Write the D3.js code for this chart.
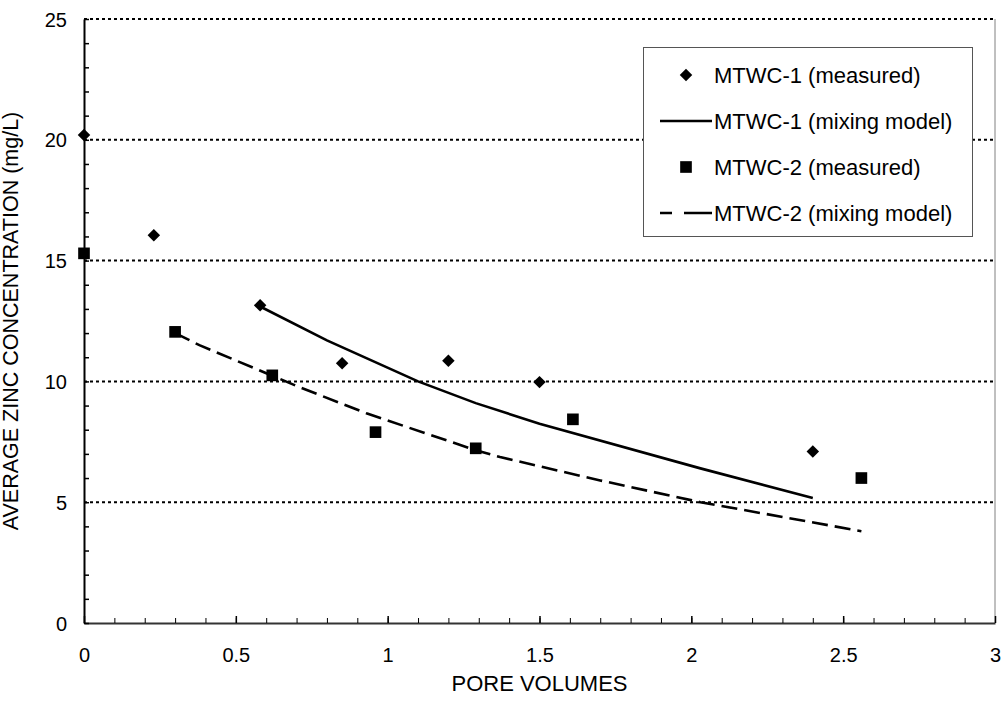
<!DOCTYPE html>
<html>
<head>
<meta charset="utf-8">
<script src="https://cdn.jsdelivr.net/npm/d3@7"></script>
<style>
  html, body { margin: 0; padding: 0; background: #fff; }
  svg { display: block; font-family: "Liberation Sans", Arial, sans-serif; }
</style>
</head>
<body>
<svg id="chart" width="1004" height="704"></svg>
<script>
// ---- data ----
const mtwc1MeasuredX = [0, 0.23, 0.58, 0.85, 1.2, 1.5, 2.4];
const mtwc1MeasuredY = [20.2, 16.05, 13.15, 10.75, 10.85, 9.97, 7.1];
const mtwc2MeasuredX = [0, 0.30, 0.62, 0.96, 1.29, 1.61, 2.56];
const mtwc2MeasuredY = [15.3, 12.05, 10.25, 7.9, 7.23, 8.43, 6.0];
const mtwc1ModelX = [0.58, 0.8, 1.1, 1.29, 1.5, 2.03, 2.4];
const mtwc1ModelY = [13.1, 11.7, 10.0, 9.1, 8.25, 6.4, 5.17];
const mtwc2ModelX = [0.30, 0.38, 0.71, 0.93, 1.29, 1.37, 1.70, 2.03, 2.56];
const mtwc2ModelY = [12.0, 11.5, 9.76, 8.68, 7.15, 6.87, 5.9, 5.0, 3.8];
const xTickLabels = [0, 0.5, 1, 1.5, 2, 2.5, 3];
const yTickLabels = [0, 5, 10, 15, 20, 25];
const legendLabels = ["MTWC-1 (measured)", "MTWC-1 (mixing model)", "MTWC-2 (measured)", "MTWC-2 (mixing model)"];
const xTitle = "PORE VOLUMES";
const yTitle = "AVERAGE ZINC CONCENTRATION (mg/L)";

// ---- layout ----
const svg = d3.select("#chart");
const x = d3.scaleLinear().domain([0, 3]).range([84, 995]);
const y = d3.scaleLinear().domain([0, 25]).range([623, 19]);
const dash = "16,7";
const FONT = "Liberation Sans, Arial, sans-serif";

// gridlines (dotted)
svg.append("g").selectAll("line").data(yTickLabels.filter(v => v > 0)).join("line")
  .attr("x1", x(0)).attr("x2", x(3))
  .attr("y1", d => y(d)).attr("y2", d => y(d))
  .attr("stroke", "#000").attr("stroke-width", 2).attr("stroke-dasharray", "3,3");

// right border
svg.append("line").attr("x1", x(3)).attr("x2", x(3)).attr("y1", y(25)).attr("y2", y(0))
  .attr("stroke", "#808080").attr("stroke-width", 1);

// x axis minor ticks
const xMinor = d3.range(0, 31).map(i => i / 10);
const xAxisMinor = svg.append("g").attr("transform", `translate(0,${y(0)})`)
  .call(d3.axisBottom(x).tickValues(xMinor).tickSize(-5).tickFormat("").tickSizeOuter(0));
xAxisMinor.select(".domain").attr("stroke", "#333").attr("stroke-width", 2);
xAxisMinor.selectAll(".tick line").attr("stroke", "#000").attr("stroke-width", 1);

const xAxisMajor = svg.append("g").attr("transform", `translate(0,${y(0)})`)
  .call(d3.axisBottom(x).tickValues(xTickLabels).tickSize(-7).tickFormat(d3.format("")).tickSizeOuter(0));
xAxisMajor.select(".domain").remove();
xAxisMajor.selectAll(".tick line").attr("stroke", "#000").attr("stroke-width", 1.5);
xAxisMajor.selectAll(".tick text").attr("font-size", 20).attr("fill", "#000")
  .attr("font-family", FONT).attr("y", 25).attr("dy", "0.71em");

// y axis
const yMinor = d3.range(0, 26);
const yAxisMinor = svg.append("g").attr("transform", `translate(${x(0)},0)`)
  .call(d3.axisLeft(y).tickValues(yMinor).tickSize(-5).tickFormat("").tickSizeOuter(0));
yAxisMinor.select(".domain").attr("stroke", "#000").attr("stroke-width", 2);
yAxisMinor.selectAll(".tick line").attr("stroke", "#000").attr("stroke-width", 1.5);

const yAxisLabels = svg.append("g").attr("transform", `translate(${x(0)},0)`)
  .call(d3.axisLeft(y).tickValues(yTickLabels).tickSize(0).tickFormat(d3.format("")));
yAxisLabels.select(".domain").remove();
yAxisLabels.selectAll(".tick text").attr("font-size", 20).attr("fill", "#000")
  .attr("font-family", FONT).attr("x", -17).attr("dy", "0.35em");

// axis titles
svg.append("text").attr("x", (x(0) + x(3)) / 2).attr("y", 691)
  .attr("text-anchor", "middle").attr("font-size", 22).text(xTitle);
svg.append("text").attr("transform", `translate(18,${(y(0) + y(25)) / 2}) rotate(-90)`)
  .attr("text-anchor", "middle").attr("font-size", 21.5).text(yTitle);

// model lines
const toPts = (xs, ys) => xs.map((v, i) => [v, ys[i]]);
const line = d3.line().x(d => x(d[0])).y(d => y(d[1]));
svg.append("path").datum(toPts(mtwc1ModelX, mtwc1ModelY)).attr("d", line)
  .attr("fill", "none").attr("stroke", "#000").attr("stroke-width", 2.6);
svg.append("path").datum(toPts(mtwc2ModelX, mtwc2ModelY)).attr("d", line)
  .attr("fill", "none").attr("stroke", "#000").attr("stroke-width", 2.6).attr("stroke-dasharray", dash);

// markers
const diamond = d3.symbol(d3.symbolSquare, 78);
const square = d3.symbol(d3.symbolSquare, 136);
svg.append("g").selectAll("path").data(toPts(mtwc1MeasuredX, mtwc1MeasuredY)).join("path")
  .attr("d", diamond).attr("transform", d => `translate(${x(d[0])},${y(d[1])}) rotate(45)`).attr("fill", "#000");
svg.append("g").selectAll("path").data(toPts(mtwc2MeasuredX, mtwc2MeasuredY)).join("path")
  .attr("d", square).attr("transform", d => `translate(${x(d[0])},${y(d[1])})`).attr("fill", "#000");

// legend
const lg = svg.append("g");
lg.append("rect").attr("x", 643.5).attr("y", 47.5).attr("width", 329).attr("height", 189)
  .attr("fill", "#fff").attr("stroke", "#555").attr("stroke-width", 1);
const rowY = [75, 121, 167, 213];
lg.selectAll("text").data(legendLabels).join("text")
  .attr("x", 714).attr("y", (d, i) => rowY[i]).attr("dy", "0.35em")
  .attr("font-size", 22).attr("fill", "#000").text(d => d);
lg.append("path").attr("d", diamond).attr("transform", `translate(686,${rowY[0]}) rotate(45)`).attr("fill", "#000");
lg.append("line").attr("x1", 660).attr("x2", 712).attr("y1", rowY[1]).attr("y2", rowY[1])
  .attr("stroke", "#000").attr("stroke-width", 2.6);
lg.append("path").attr("d", square).attr("transform", `translate(686,${rowY[2]})`).attr("fill", "#000");
lg.append("line").attr("x1", 660).attr("x2", 712).attr("y1", rowY[3]).attr("y2", rowY[3])
  .attr("stroke", "#000").attr("stroke-width", 2.6).attr("stroke-dasharray", "12,12,28");
</script>
</body>
</html>
